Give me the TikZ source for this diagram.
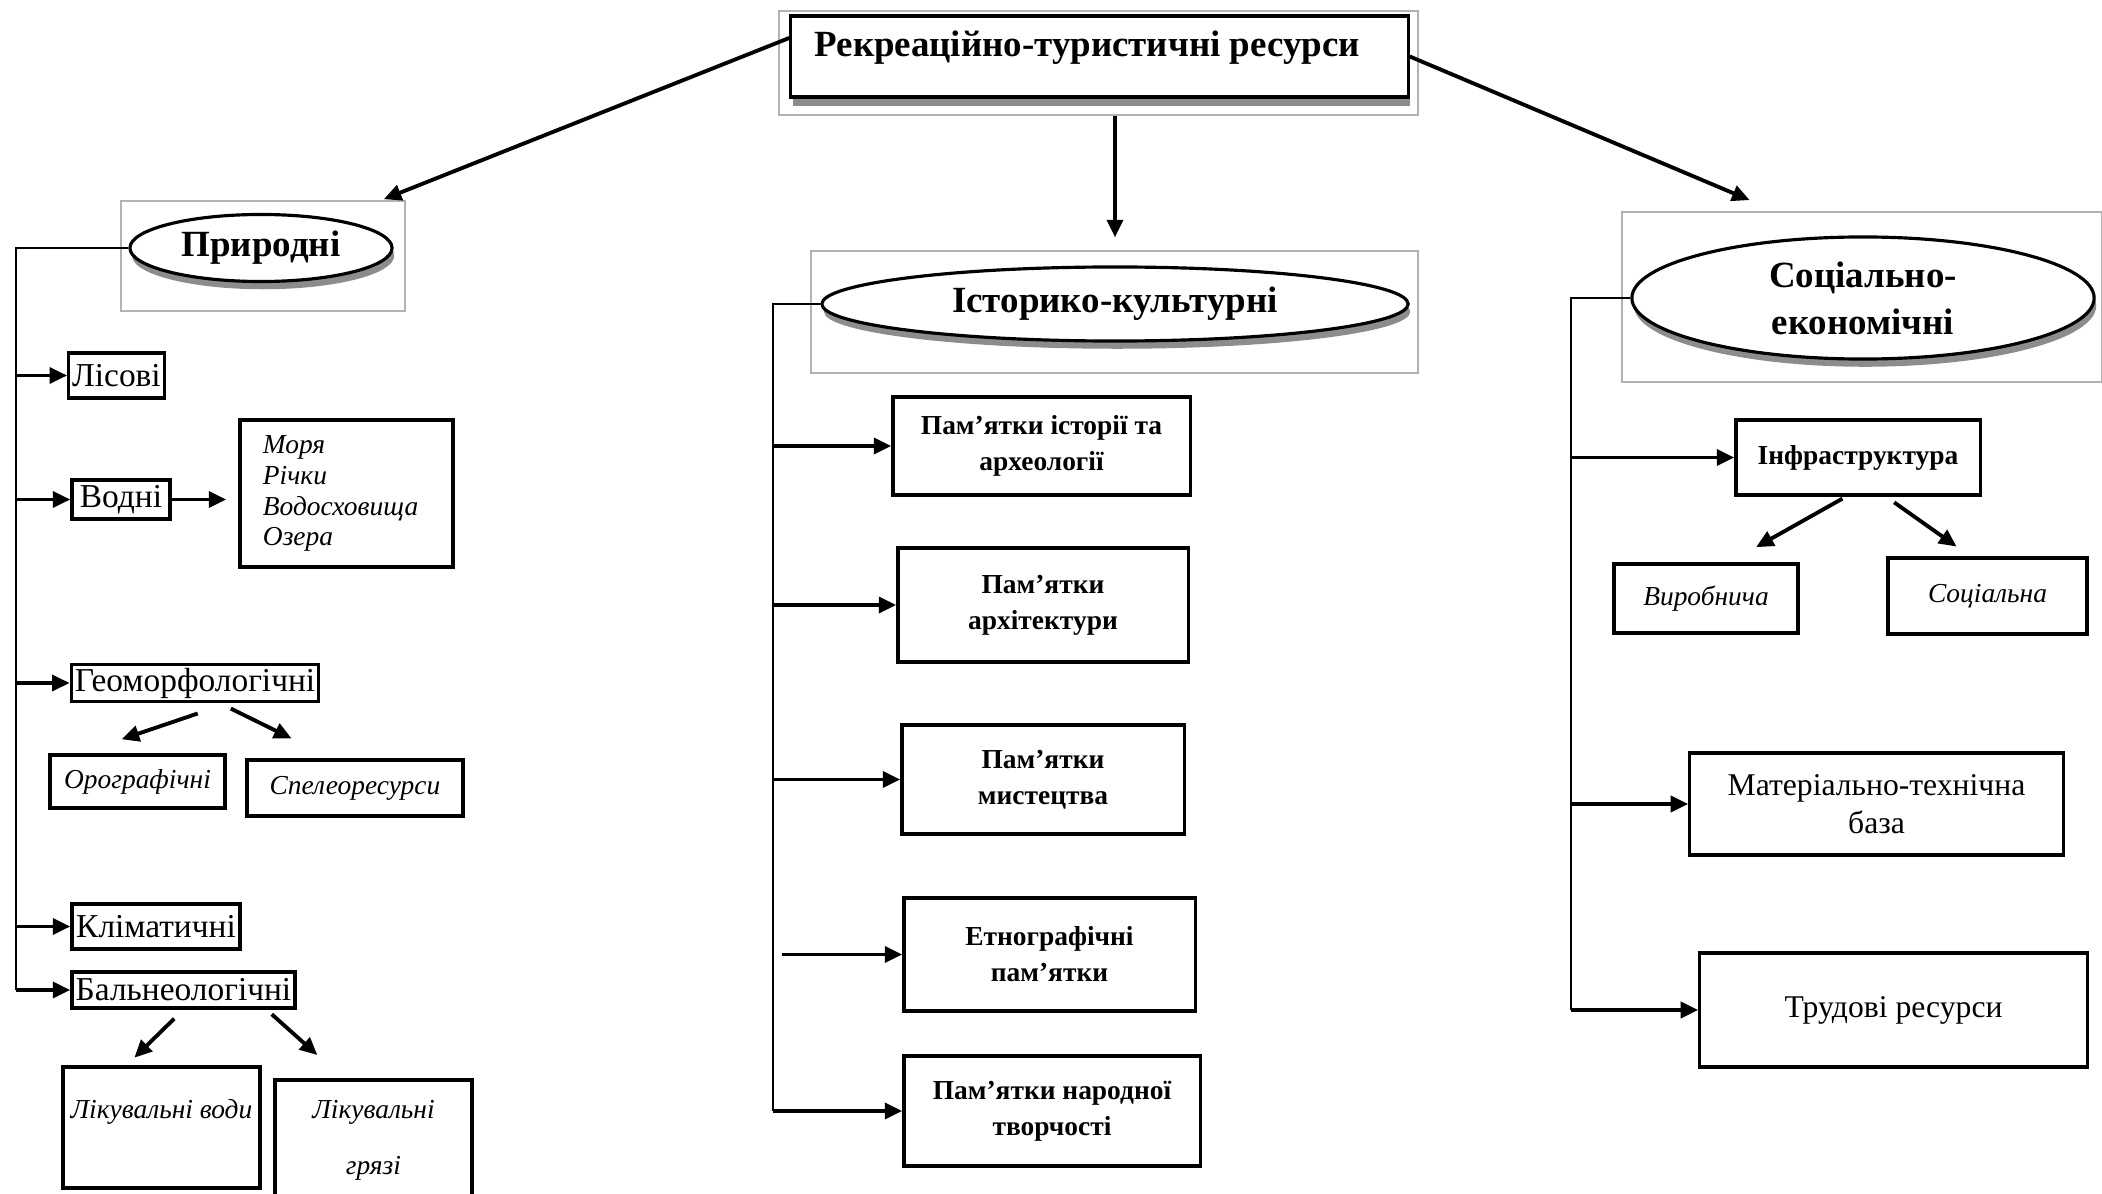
\documentclass[tikz,border=0pt]{standalone}
\usepackage{fontspec}
\setmainfont{Liberation Serif}
\usetikzlibrary{
    positioning,
    arrows.meta,
    shapes.geometric,
    shadows,
}
\tikzset{
    % Box styles
    box/.style={rectangle, draw, line width=0.9pt, align=center, inner sep=1pt, fill=white},
    leaf box/.style={box, font=\fontsize{9.5}{11}\selectfont},
    note box/.style={box, font=\itshape\fontsize{7.8}{9.5}\selectfont},
    mid box/.style={box, font=\bfseries\fontsize{7.8}{10.2}\selectfont},
    soc box/.style={box, font=\fontsize{9}{10.8}\selectfont},
    oval/.style={ellipse, draw, line width=0.9pt, inner sep=0pt, fill=white, align=center,
                 font=\bfseries\fontsize{10.5}{13.3}\selectfont,
                 drop shadow={shadow xshift=0.6pt, shadow yshift=-2.2pt, fill=black, opacity=0.45}},
    frame/.style={draw=black!30, line width=0.4pt},
    % Arrow styles
    arrow/.style={-{Triangle[length=5pt, width=4.5pt]}, line width=1.1pt},
    spine/.style={line width=0.6pt},
}

\begin{document}
\begin{tikzpicture}[x=0.01cm, y=-0.01cm]
    \path[use as bounding box, fill=white] (0,0) rectangle (2102,1194);

    % Frames
    \draw[frame] (779,11) rectangle (1418,115);
    \draw[frame] (121,201) rectangle (405,311);
    \draw[frame] (811,251) rectangle (1418,373);
    \draw[frame] (1622,212) rectangle (2101.5,382);

    % Root
    \node[box, minimum width=6.17cm, minimum height=0.81cm, text height=7pt, text depth=7pt,
          font=\bfseries\fontsize{10.5}{12}\selectfont,
          drop shadow={shadow xshift=0.6pt, shadow yshift=-2.6pt, fill=black, opacity=0.45}]
          (res) at (1099.5,56.5) {Рекреаційно-туристичні ресурси\hspace*{7pt}};

    % Groups
    \node[oval, minimum width=2.62cm, minimum height=0.67cm] (prir) at (261,248) {Природні};
    \node[oval, minimum width=5.86cm, minimum height=0.74cm] (hist) at (1115,304) {Історико-культурні};
    \node[oval, minimum width=4.62cm, minimum height=1.22cm] (soc) at (1863,298) {Соціально-\\економічні};

    % Natural
    \node[leaf box, minimum width=0.89cm, minimum height=0.45cm] (lis) at (116.5,375.5) {Лісові};
    \node[leaf box, minimum width=0.98cm, minimum height=0.39cm] (vod) at (121,499.5) {Водні};
    \node[note box, font=\itshape\fontsize{7.8}{8.8}\selectfont, align=left, text width=1.67cm,
          inner xsep=0.23cm, minimum height=1.47cm] (vodlist) at (346.5,493.5) {Моря\\Річки\\Водосховища\\Озера};
    \node[leaf box, minimum width=2.46cm, minimum height=0.36cm] (geo) at (195,683) {Геоморфологічні};
    \node[note box, minimum width=1.75cm, minimum height=0.53cm] (oro) at (137.5,781.5) {Орографічні};
    \node[note box, minimum width=2.16cm, minimum height=0.56cm] (spel) at (355,788) {Спелеоресурси};
    \node[leaf box, minimum width=1.68cm, minimum height=0.45cm] (klim) at (156,926.5) {Кліматичні};
    \node[leaf box, minimum width=2.23cm, minimum height=0.36cm] (bal) at (183.5,990) {Бальнеологічні};
    \node[note box, minimum width=1.97cm, minimum height=1.21cm, text height=7pt, text depth=12.4pt]
          (voda) at (161.5,1127.5) {Лікувальні води};
    \node[note box, minimum width=1.97cm, minimum height=1.2cm] (griaz) at (373.5,1140) {Лікувальні\\[6.5pt]грязі};

    % Historical
    \node[mid box, minimum width=2.97cm, minimum height=0.98cm] (h1) at (1041.5,446) {Пам’ятки історії та\\археології};
    \node[mid box, minimum width=2.90cm, minimum height=1.14cm] (h2) at (1043,605) {Пам’ятки\\архітектури};
    \node[mid box, minimum width=2.82cm, minimum height=1.09cm] (h3) at (1043,779.5) {Пам’ятки\\мистецтва};
    \node[mid box, minimum width=2.91cm, minimum height=1.13cm] (h4) at (1049.5,954.5) {Етнографічні\\пам’ятки};
    \node[mid box, minimum width=2.96cm, minimum height=1.10cm] (h5) at (1052,1111) {Пам’ятки народної\\творчості};

    % Social
    \node[mid box, minimum width=2.44cm, minimum height=0.75cm] (infra) at (1858,457.5) {Інфраструктура};
    \node[note box, minimum width=1.84cm, minimum height=0.69cm] (vyr) at (1706,598.5) {Виробнича};
    \node[note box, minimum width=1.99cm, minimum height=0.76cm] (socia) at (1987.5,596) {Соціальна};
    \node[soc box, minimum width=3.73cm, minimum height=1.02cm] (mtb) at (1876.5,804) {Матеріально-технічна\\база};
    \node[soc box, minimum width=3.87cm, minimum height=1.14cm] (trud) at (1893.5,1010) {Трудові ресурси};

    % Spines
    \coordinate (lt) at (16,248);
    \coordinate (lb) at (16,990);
    \coordinate (mt) at (773,304);
    \coordinate (mb) at (773,1111);
    \coordinate (rt) at (1571,298);
    \coordinate (rb) at (1571,1010);

    % Root arrows
    \draw[arrow, shorten >=0.53cm] ([yshift=0.185cm]res.west) -- (prir);
    \draw[arrow, shorten <=0.17cm, shorten >=0.28cm] (res.south -| hist.north) -- (hist.north);
    \draw[arrow, shorten >=1.23cm] (res.east) -- ([yshift=0.5cm]soc.center);

    % Natural branch
    \draw[spine] (prir.west) -- (lt) -- (lb);
    \draw[arrow] (lt |- lis) -- (lis);
    \draw[arrow] (lt |- vod) -- (vod);
    \draw[arrow] (lt |- geo) -- (geo);
    \draw[arrow] (lt |- klim) -- (klim);
    \draw[arrow] (lb) -- (bal);
    \draw[arrow, shorten >=0.12cm] (vod) -- (vod -| vodlist.west);
    \draw[arrow, shorten <=0.32cm, shorten >=0.44cm] ([xshift=0.33cm]geo.south) -- ([xshift=-0.575cm]oro.north);
    \draw[arrow, shorten <=0.12cm, shorten >=0.45cm] ([xshift=0.25cm]geo.south) -- ([xshift=-0.23cm]spel.north);
    \draw[arrow, shorten <=0.13cm, shorten >=0.11cm] (bal.south) -- ([xshift=-0.35cm]voda.north);
    \draw[arrow, shorten <=0.07cm, shorten >=0.35cm] ([xshift=0.83cm]bal.south) -- ([xshift=-0.3cm]griaz.north);

    % Historical branch
    \draw[spine] (hist.west) -- (mt) -- (mb);
    \draw[arrow] (mt |- h1) -- (h1);
    \draw[arrow] (mt |- h2) -- (h2);
    \draw[arrow] (mt |- h3) -- (h3);
    \draw[arrow, shorten <=0.09cm] (mt |- h4) -- (h4);
    \draw[arrow] (mb) -- (h5);

    % Social branch
    \draw[spine] (soc.west) -- (rt) -- (rb);
    \draw[arrow] (rt |- infra) -- (infra);
    \draw[arrow] (rt |- mtb) -- (mtb);
    \draw[arrow] (rb) -- (trud);
    \draw[arrow, shorten <=0.04cm, shorten >=0.31cm] ([xshift=-0.12cm]infra.south) -- ([xshift=0.23cm]vyr.north);
    \draw[arrow, shorten <=0.1cm, shorten >=0.17cm] ([xshift=0.28cm]infra.south) -- ([xshift=-0.17cm]socia.north);
\end{tikzpicture}
\end{document}
